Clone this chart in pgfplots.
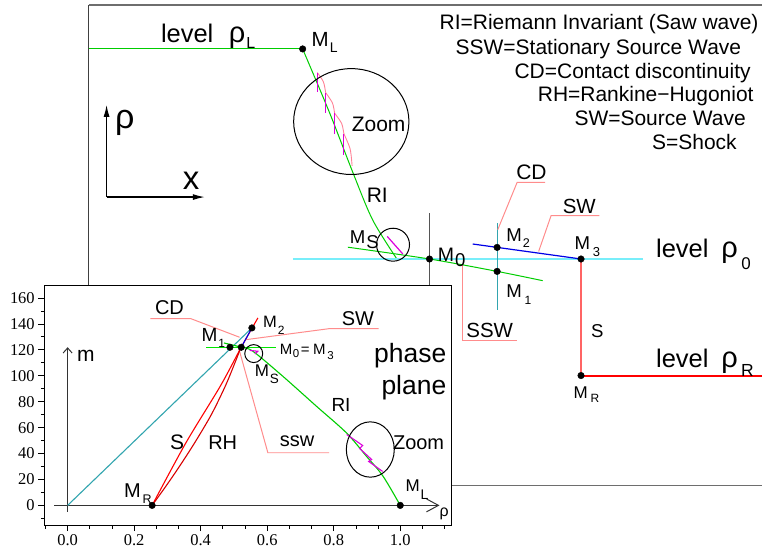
\documentclass[border=0pt]{standalone}
\usepackage{pgfplots}
\pgfplotsset{compat=1.18}
\usepackage{fontspec}
\setmainfont{Liberation Sans}
\newfontfamily\seriffont{Liberation Serif}
\usetikzlibrary{arrows.meta}
\definecolor{grn}{RGB}{0,205,0}
\definecolor{brgrn}{RGB}{0,230,0}
\definecolor{cyanl}{RGB}{120,238,250}
\definecolor{tealc}{RGB}{50,165,175}
\definecolor{blu}{RGB}{0,0,230}
\definecolor{rd}{RGB}{255,0,0}
\definecolor{salmon}{RGB}{255,100,100}
\definecolor{pinkl}{RGB}{255,140,140}
\definecolor{mag}{RGB}{220,0,220}
\definecolor{pinkarc}{RGB}{255,130,150}
\definecolor{grayv}{RGB}{85,85,85}
\definecolor{framec}{RGB}{110,110,110}
\newcommand{\T}[4]{\node[anchor=base west,inner sep=0pt,font={\fontsize{#3}{#3}\selectfont}] at (axis cs:#1,#2) {#4};}
\newcommand{\TE}[4]{\node[anchor=base east,inner sep=0pt,font={\fontsize{#3}{#3}\selectfont}] at (axis cs:#1,#2) {#4};}
\begin{document}
\begin{tikzpicture}
% ---------------- main (x-space) picture, pixel coordinates ----------------
\begin{axis}[at={(0pt,0pt)},anchor=south west,scale only axis,width=763pt,height=556pt,
  xmin=0,xmax=763,ymin=0,ymax=556,y dir=reverse,hide axis,clip=false]
\path (axis cs:0,0) rectangle (axis cs:763,556);
% frame
\addplot[framec,line width=1.6pt,mark=none] coordinates {(89,5) (763,5)};
\addplot[black!75,line width=1pt,mark=none] coordinates {(89,5) (89,286)};
\addplot[framec,line width=1pt,mark=none] coordinates {(452,486) (763,486)};
% level rho_L and RI
\addplot[grn,line width=1.2pt,mark=none] coordinates {(89,48.7) (303,48.7)};
\addplot[grn,line width=1pt,mark=none,smooth] coordinates {(303,49) (330,113) (353,172) (373,220) (396.7,258.3)};
% saw wave in zoom
\addplot[pinkarc,line width=0.9pt,mark=none,smooth] coordinates {(317.7,72.7) (323.8,82) (326,92.7)};
\addplot[pinkarc,line width=0.9pt,mark=none,smooth] coordinates {(326,92.7) (332.8,103) (335,113.3)};
\addplot[pinkarc,line width=0.9pt,mark=none,smooth] coordinates {(335,113.3) (342,123.5) (344.3,134)};
\addplot[pinkarc,line width=0.9pt,mark=none,smooth] coordinates {(344.3,134) (350.5,149) (352.5,166)};
\addplot[mag,line width=1.2pt,mark=none] coordinates {(317.7,72.7) (317.7,91.7)};
\addplot[mag,line width=1.2pt,mark=none] coordinates {(326,92.7) (326,113.3)};
\addplot[mag,line width=1.2pt,mark=none] coordinates {(335,113.3) (335,134)};
\addplot[mag,line width=1.2pt,mark=none] coordinates {(344.3,134) (344.3,155)};
\draw[black,line width=1pt] (axis cs:351.7,121.7) ellipse[x radius=57.7pt,y radius=53pt];
% level rho_0
\addplot[cyanl,line width=2pt,mark=none] coordinates {(293.3,259.3) (644,259.3)};
\addplot[grayv,line width=1pt,mark=none] coordinates {(430,213.3) (430,286)};
\addplot[grn,line width=1pt,mark=none,smooth] coordinates {(348.3,247.5) (430,259.3) (497.7,271.7) (543.3,281)};
\addplot[mag,line width=1.2pt,mark=none] coordinates {(387.7,236.7) (403.3,254.3)};
\draw[black,line width=1pt] (axis cs:393.5,245) circle[radius=16.5pt];
\addplot[tealc,line width=1.2pt,mark=none] coordinates {(497.7,223.3) (497.7,310.7)};
\addplot[blu,line width=1.2pt,mark=none] coordinates {(473.3,244.3) (581.7,259.3)};
\addplot[salmon,line width=2pt,mark=none] coordinates {(581.7,259.3) (581.7,376)};
\addplot[color=red,line width=1.8pt,mark=none] coordinates {(584,376.3) (763,376.3)};
% leaders
\addplot[pinkl,line width=1pt,mark=none] coordinates {(545.7,182.7) (517.7,182.7) (498.3,230)};
\addplot[pinkl,line width=1pt,mark=none] coordinates {(600,216) (551.7,216) (539.3,251.7)};
\addplot[pinkl,line width=1pt,mark=none] coordinates {(463.3,265) (463.3,341) (517.7,341)};
% points
\addplot[only marks,mark=*,mark size=3.3pt,black] coordinates {(303,49) (430,259.3) (497.7,247.7) (497.7,271.7) (581.7,259.3) (581.7,376)};
% small axes
\draw[black,line width=1.2pt,-{Latex[length=12pt,width=6pt]}] (axis cs:106.7,197.3) -- (axis cs:106.7,105);
\draw[black,line width=1.2pt,-{Latex[length=12pt,width=6pt]}] (axis cs:106.7,197.3) -- (axis cs:205,197.3);
\T{115}{128.3}{34}{ρ}
\T{183}{190}{33}{x}
% texts
\T{161}{42.7}{25.5}{level}
\T{229}{42.7}{29}{ρ}
\T{246.5}{48.3}{16}{L}
\T{311.7}{46.7}{20.5}{M}
\T{330}{52.7}{14}{L}
\T{352}{131.7}{21}{Zoom}
\T{367}{203}{21}{RI}
\T{350}{243.3}{18.6}{M}
\T{366.5}{248.3}{18.6}{S}
\T{438.3}{261.7}{19.5}{M}
\T{455.5}{266.7}{18.6}{0}
\T{506.7}{241.7}{18.6}{M}
\T{523.3}{247.3}{12.6}{2}
\T{506.7}{298.3}{18.6}{M}
\T{525}{305}{12}{1}
\T{575}{249.3}{18.6}{M}
\T{593.3}{256.7}{13}{3}
\T{574}{399}{17}{M}
\T{591}{403}{12}{R}
\T{591.7}{338.3}{18.6}{S}
\T{516.7}{180}{21}{CD}
\T{563.3}{213.3}{20.5}{SW}
\T{466.7}{338.3}{20.5}{SSW}
\T{656.7}{258.3}{25.5}{level}
\T{722}{258.3}{29}{ρ}
\T{742}{270}{17}{0}
\T{656.7}{368.3}{25.5}{level}
\T{722}{368.3}{29}{ρ}
\T{741.7}{376.7}{17.5}{R}
% legend text
\T{440}{30}{21}{RI=Riemann Invariant (Saw wave)}
\T{456}{54.3}{21}{SSW=Stationary Source Wave}
\T{515}{78.3}{21}{CD=Contact discontinuity}
\T{538.3}{101.7}{21}{RH=Rankine−Hugoniot}
\T{575}{126}{21}{SW=Source Wave}
\T{652.7}{150}{21}{S=Shock}
\end{axis}
% ---------------- phase plane inset ----------------
\begin{axis}[at={(44.3pt,30.3pt)},anchor=south west,scale only axis,width=407.7pt,height=240.2pt,
  xmin=-0.0703,xmax=1.154,ymin=-15.2,ymax=169.9,
  axis background/.style={fill=white},clip=false,
  axis line style={black,line width=1pt},
  tick pos=left,tick align=outside,
  xtick={0,0.2,0.4,0.6,0.8,1.0},ytick={0,20,40,60,80,100,120,140,160},
  minor xtick={-0.0667,0.0667,0.1333,0.2667,0.3333,0.4667,0.5333,0.6667,0.7333,0.8667,0.9333,1.0667,1.1333},
  minor ytick={-10,10,30,50,70,90,110,130,150},
  major tick length=6pt,minor tick length=3.5pt,
  every tick/.style={black,line width=0.8pt},
  /pgf/number format/assume math mode=true,
  ticklabel style={font={\seriffont\fontsize{16.5}{16.5}\selectfont}},
  xticklabel style={/pgf/number format/.cd,fixed,fixed zerofill,precision=1},
  yticklabel style={/pgf/number format/.cd,fixed,precision=0}]
\draw[black!80,line width=1pt,-{Straight Barb[length=12pt,width=13pt]}] (axis cs:-0.04,0) -- (axis cs:1.118,0);
\draw[black!80,line width=1pt,-{Straight Barb[length=5pt,width=9pt]}] (axis cs:0,-5) -- (axis cs:0,122);
% leaders
\addplot[pinkl,line width=1pt,mark=none] coordinates {(0.249,144.1) (0.370,144.1) (0.517,129.7)};
\addplot[pinkl,line width=1pt,mark=none] coordinates {(0.935,136.4) (0.788,136.4) (0.5375,127.9)};
\addplot[pinkl,line width=1pt,mark=none] coordinates {(0.515,120.7) (0.602,40.6) (0.786,40.6)};
% curves
\addplot[tealc,line width=1.1pt,mark=none] coordinates {(0,0) (0.554,136.9)};
\addplot[rd,line width=1.1pt,mark=none,smooth] coordinates {(0.254,0) (0.355,48) (0.459,92) (0.522,122) (0.572,144.6)};
\addplot[rd!85!black,line width=1.1pt,mark=none,smooth] coordinates {(0.254,0) (0.296,15) (0.336,30) (0.382,48.3) (0.432,70) (0.474,92) (0.503,110) (0.518,120)};
\addplot[grn,line width=1.1pt,mark=none,smooth] coordinates {(0.470,125.3) (0.522,122) (0.557,118.9) (0.647,99.6) (0.748,76.5) (0.838,56) (0.898,38) (0.948,22.6) (1.0,0)};
\addplot[brgrn,line width=1.1pt,mark=none] coordinates {(0.417,122) (0.625,122)};
\addplot[blu,line width=1.1pt,mark=none] coordinates {(0.522,122) (0.554,136.9)};
\addplot[mag,line width=1.1pt,mark=none] coordinates {(0.839,54.7) (0.887,46.2) (0.878,43.9) (0.914,35.4) (0.905,33.9) (0.947,26.2)};
\addplot[mag,line width=1.1pt,mark=none] coordinates {(0.547,119.6) (0.572,118.9) (0.563,116.9)};
\draw[black,line width=1pt] (axis cs:0.5595,117.1) circle[radius=9pt];
\draw[black,line width=1pt] (axis cs:0.91,43.1) ellipse[x radius=24pt,y radius=27.7pt];
\addplot[only marks,mark=*,mark size=3.3pt,black] coordinates {(0.254,0) (1.0,0) (0.488,122) (0.522,122) (0.554,136.9)};
% labels
\T{0.2622}{147.1}{20}{CD}
\T{0.8237}{138.9}{20}{SW}
\T{0.4024}{126.6}{19}{M}
\T{0.4529}{121.5}{12}{1}
\T{0.5874}{136.9}{16.5}{M}
\T{0.6315}{131.7}{12}{2}
\T{0.6375}{116.3}{15}{M}
\T{0.6766}{113.8}{11.5}{0}
\T{0.7006}{116.3}{15}{=}
\T{0.7375}{116.3}{15}{M}
\T{0.7802}{112.5}{11.5}{3}
\T{0.5625}{99.2}{17}{M}
\T{0.6075}{94.0}{13.5}{S}
\T{0.3072}{43.1}{21}{S}
\T{0.4222}{43.1}{20}{RH}
\T{0.7928}{72.6}{19}{RI}
\T{0.9778}{43.1}{20}{Zoom}
\T{0.6375}{45.7}{20}{ssw}
\TE{1.139}{109.9}{26.5}{phase}
\TE{1.139}{85.5}{26.5}{plane}
\T{0.0279}{111.2}{21}{m}
\T{1.118}{-8.2}{16}{ρ}
\T{0.169}{5.9}{20}{M}
\T{0.2252}{1.5}{12.5}{R}
\T{1.0159}{11.0}{17}{M}
\T{1.0610}{4.6}{14}{L}
\end{axis}
\end{tikzpicture}
\end{document}
